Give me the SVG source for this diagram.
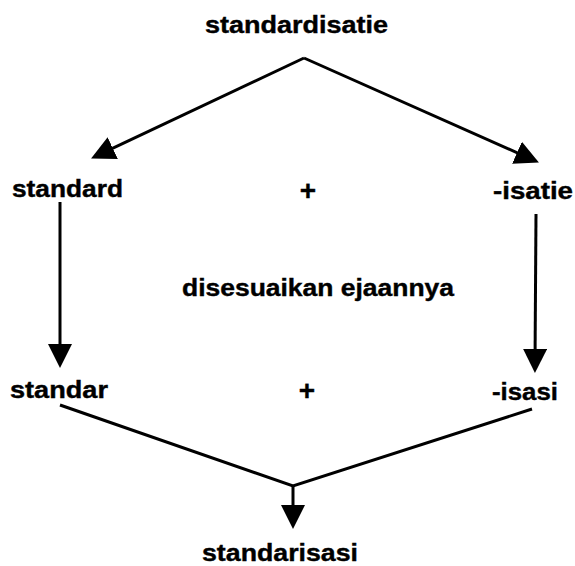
<svg xmlns="http://www.w3.org/2000/svg" width="575" height="566" viewBox="0 0 575 566">
  <style>
    .t { font-family: "Liberation Sans", Arial, sans-serif; font-weight: bold; font-size: 24px; fill: #000; stroke: #000; stroke-width: 0.4; }
    .p { font-size: 28px; }
    .c { stroke: #000; stroke-width: 3; fill: none; }
  </style>
  <defs>
    <marker id="arr" markerUnits="userSpaceOnUse" viewBox="0 0 24 24" markerWidth="24" markerHeight="24" refX="15" refY="12" orient="auto">
      <path d="M0,0 L24,12 L0,24 z" fill="#000"/>
    </marker>
  </defs>
  <rect width="575" height="566" fill="#fff"/>
  <g id="connectors">
    <line class="c" x1="304" y1="58" x2="99.2" y2="154.6" marker-end="url(#arr)"/>
    <line class="c" x1="304" y1="58" x2="530.7" y2="158.8" marker-end="url(#arr)"/>
    <line class="c" x1="60" y1="202" x2="60" y2="359" marker-end="url(#arr)"/>
    <line class="c" x1="536" y1="214" x2="535" y2="364" marker-end="url(#arr)"/>
    <polyline class="c" points="60,405 293,486 532,409"/>
    <line class="c" x1="293" y1="486" x2="293" y2="520" marker-end="url(#arr)"/>
  </g>
  <g id="n-standardisatie"><text class="t" x="205" y="33" textLength="183" lengthAdjust="spacingAndGlyphs">standardisatie</text></g>
  <g id="n-standard"><text class="t" x="12" y="197" textLength="111" lengthAdjust="spacingAndGlyphs">standard</text></g>
  <g id="n-plus1"><text class="t p" x="308" y="200" text-anchor="middle">+</text></g>
  <g id="n-isatie"><text class="t" x="493" y="199" textLength="80" lengthAdjust="spacingAndGlyphs">-isatie</text></g>
  <g id="n-disesuaikan"><text class="t" x="182" y="296" textLength="272" lengthAdjust="spacingAndGlyphs">disesuaikan ejaannya</text></g>
  <g id="n-standar"><text class="t" x="10" y="398" textLength="98" lengthAdjust="spacingAndGlyphs">standar</text></g>
  <g id="n-plus2"><text class="t p" x="307" y="400" text-anchor="middle">+</text></g>
  <g id="n-isasi"><text class="t" x="492" y="400" textLength="66" lengthAdjust="spacingAndGlyphs">-isasi</text></g>
  <g id="n-standarisasi"><text class="t" x="202" y="561" textLength="156" lengthAdjust="spacingAndGlyphs">standarisasi</text></g>
</svg>
